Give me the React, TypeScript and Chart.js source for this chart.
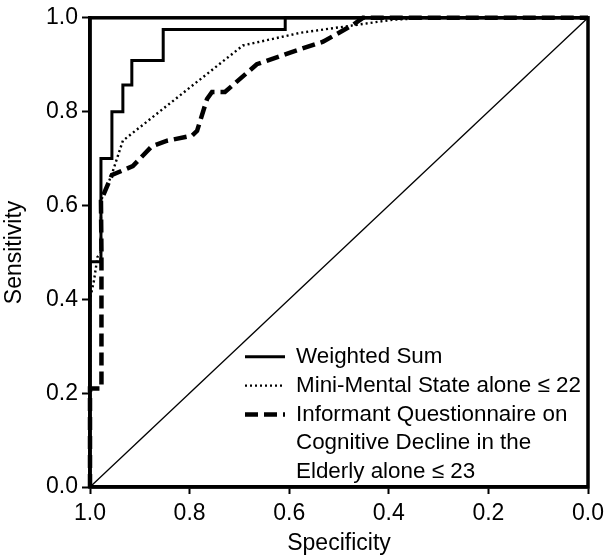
import React, { useEffect, useRef } from "react";
import { Chart, registerables } from "chart.js";

Chart.register(...registerables);

const tickValues = [0, 0.2, 0.4, 0.6, 0.8, 1.0];

const diagSpec = [1.0, 0.0];
const diagSens = [0.0, 1.0];

const weightedSpec = [1.0, 1.0, 0.978, 0.978, 0.956, 0.956, 0.934, 0.934, 0.916, 0.916, 0.853, 0.853, 0.608, 0.608, 0.0];
const weightedSens = [0.0, 0.48, 0.48, 0.70, 0.70, 0.80, 0.80, 0.857, 0.857, 0.909, 0.909, 0.975, 0.975, 1.0, 1.0];

const mmseSpec = [1.0, 1.0, 0.992, 0.985, 0.978, 0.978, 0.956, 0.934, 0.693, 0.578, 0.464, 0.392, 0.317, 0.0];
const mmseSens = [0.0, 0.40, 0.44, 0.49, 0.50, 0.61, 0.667, 0.738, 0.941, 0.968, 0.985, 0.996, 1.0, 1.0];

const iqSpec = [1.0, 1.0, 0.977, 0.977, 0.978, 0.956, 0.914, 0.876, 0.845, 0.795, 0.785, 0.765, 0.755, 0.729, 0.665, 0.598, 0.532, 0.472, 0.452, 0.0];
const iqSens = [0.0, 0.21, 0.21, 0.50, 0.61, 0.665, 0.684, 0.726, 0.738, 0.749, 0.759, 0.827, 0.842, 0.842, 0.901, 0.926, 0.949, 0.985, 1.0, 1.0];

const legendLabels: string[][] = [
  ["Weighted Sum"],
  ["Mini-Mental State alone \u2264 22"],
  ["Informant Questionnaire on", "Cognitive Decline in the", "Elderly alone \u2264 23"],
];

const FONT_FAMILY = '"Liberation Sans", Arial, Helvetica, sans-serif';

const lineStyles = [
  { dash: [] as number[], width: 3 },
  { dash: [2, 3], width: 2.4 },
  { dash: [13, 6], width: 4.5 },
];

export default function App() {
  const ref = useRef<HTMLCanvasElement>(null);

  useEffect(() => {
    if (!ref.current) return;
    const toPts = (xs: number[], ys: number[]) => xs.map((x, i) => ({ x, y: ys[i] }));
    const font = { family: FONT_FAMILY, size: 23, lineHeight: 1.2 };
    const titleFont = { family: FONT_FAMILY, size: 23, lineHeight: 1.0 };

    const framePlugin = {
      id: "frame",
      afterDatasetsDraw(chart: any) {
        const { ctx, chartArea } = chart;
        const { left, top, right, bottom } = chartArea;
        ctx.save();
        ctx.strokeStyle = "#000";
        ctx.lineWidth = 3.5;
        ctx.strokeRect(left, top, right - left, bottom - top);
        ctx.restore();
      },
    };

    const legendPlugin = {
      id: "customLegend",
      afterDraw(chart: any) {
        const { ctx, chartArea } = chart;
        const x0 = chartArea.left + 155;
        const x1 = chartArea.left + 195;
        const tx = chartArea.left + 206;
        let y = chartArea.top + 339;
        const gap = 28.8;
        ctx.save();
        ctx.font = `22.4px ${FONT_FAMILY}`;
        ctx.fillStyle = "#000";
        ctx.textBaseline = "middle";
        ctx.textAlign = "left";
        legendLabels.forEach((lines, i) => {
          const st = lineStyles[i];
          ctx.save();
          ctx.strokeStyle = "#000";
          ctx.lineWidth = st.width;
          ctx.setLineDash(st.dash);
          ctx.beginPath();
          ctx.moveTo(x0, y);
          ctx.lineTo(x1, y);
          ctx.stroke();
          ctx.restore();
          lines.forEach((t) => {
            ctx.fillText(t, tx, y);
            y += gap;
          });
        });
        ctx.restore();
      },
    };

    const buildTicks = (s: any) => {
      s.ticks = tickValues.map((v) => ({ value: v }));
    };

    const chart = new Chart(ref.current, {
      type: "scatter",
      data: {
        datasets: [
          {
            label: "Reference",
            data: toPts(diagSpec, diagSens),
            showLine: true,
            borderColor: "#000",
            borderWidth: 1.3,
            pointRadius: 0,
            clip: false,
          },
          {
            label: "Weighted Sum",
            data: toPts(weightedSpec, weightedSens),
            showLine: true,
            borderColor: "#000",
            borderWidth: lineStyles[0].width,
            pointRadius: 0,
            clip: false,
          },
          {
            label: "Mini-Mental State alone \u2264 22",
            data: toPts(mmseSpec, mmseSens),
            showLine: true,
            borderColor: "#000",
            borderWidth: lineStyles[1].width,
            borderDash: lineStyles[1].dash,
            pointRadius: 0,
            clip: false,
          },
          {
            label: "Informant Questionnaire on Cognitive Decline in the Elderly alone \u2264 23",
            data: toPts(iqSpec, iqSens),
            showLine: true,
            borderColor: "#000",
            borderWidth: lineStyles[2].width,
            borderDash: lineStyles[2].dash,
            pointRadius: 0,
            clip: false,
          },
        ],
      },
      options: {
        animation: false,
        responsive: false,
        layout: { padding: { top: 13, right: 16, left: 0, bottom: 0 } },
        plugins: { legend: { display: false }, tooltip: { enabled: false } },
        scales: {
          x: {
            type: "linear",
            min: 0,
            max: 1,
            reverse: true,
            afterBuildTicks: buildTicks,
            afterFit: (s: any) => {
              s.height = 68;
            },
            ticks: {
              callback: (v: any) => Number(v).toFixed(1),
              font,
              color: "#000",
              padding: 6,
              maxRotation: 0,
              autoSkip: false,
            },
            grid: {
              display: true,
              drawOnChartArea: false,
              drawTicks: true,
              tickLength: 7,
              tickWidth: 2,
              tickColor: "#000",
            },
            border: { display: true, color: "#000", width: 3.5 },
            title: { display: true, text: "Specificity", font: titleFont, color: "#000", padding: { top: 0, bottom: 0 } },
          },
          y: {
            type: "linear",
            min: 0,
            max: 1,
            afterBuildTicks: buildTicks,
            afterFit: (s: any) => {
              s.width = 90;
            },
            ticks: {
              callback: (v: any) => Number(v).toFixed(1),
              font,
              color: "#000",
              padding: 4,
              autoSkip: false,
            },
            grid: {
              display: true,
              drawOnChartArea: false,
              drawTicks: true,
              tickLength: 8,
              tickWidth: 2,
              tickColor: "#000",
            },
            border: { display: true, color: "#000", width: 3.5 },
            title: { display: true, text: "Sensitivity", font: titleFont, color: "#000", padding: { top: 3, bottom: 0 } },
          },
        },
      },
      plugins: [framePlugin, legendPlugin],
    } as any);

    return () => chart.destroy();
  }, []);

  return (
    <div style={{ position: "fixed", left: 0, top: 0, width: 604, height: 555, background: "#fff" }}>
      <canvas ref={ref} width={604} height={555} style={{ display: "block", width: 604, height: 555 }} />
    </div>
  );
}
